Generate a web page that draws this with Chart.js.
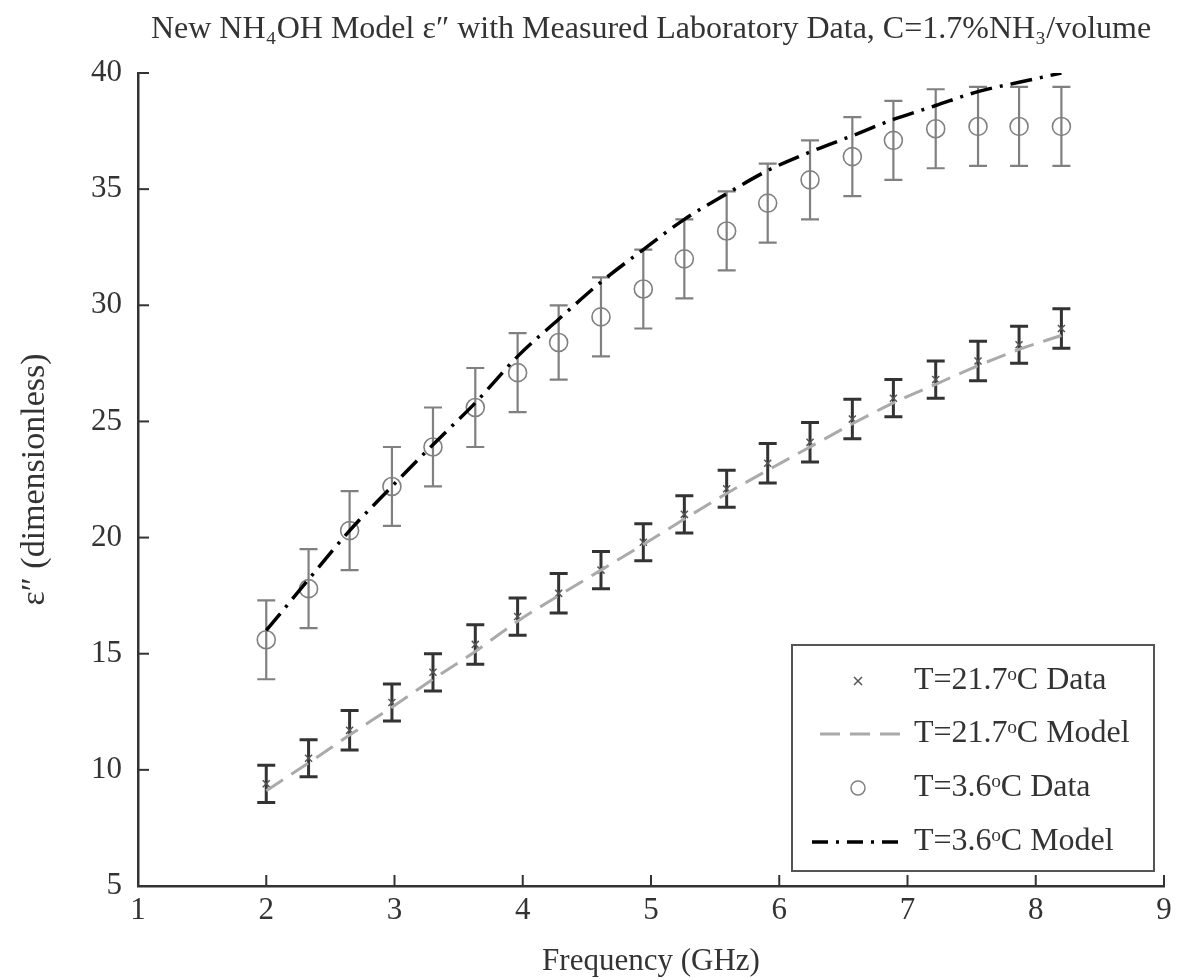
<!DOCTYPE html>
<html>
<head>
<meta charset="utf-8">
<script src="https://cdn.jsdelivr.net/npm/chart.js@4.4.0/dist/chart.umd.min.js"></script>
<style>
    html, body { margin: 0; padding: 0; background: #fff; }
</style>
</head>
<body>
<canvas id="myChart" width="1182" height="980"></canvas>
<script>
// frequencies (GHz) of the measured points
let freq = [2.00, 2.33, 2.65, 2.98, 3.30, 3.63, 3.96, 4.28, 4.61, 4.94,
            5.26, 5.59, 5.91, 6.24, 6.57, 6.89, 7.22, 7.55, 7.87, 8.20];

// T = 21.7 C
let warmData  = [9.4, 10.5, 11.7, 12.9, 14.2, 15.4, 16.6, 17.6, 18.6, 19.8,
                 21.0, 22.1, 23.2, 24.1, 25.1, 26.0, 26.8, 27.6, 28.3, 29.0];
let warmErr   = [0.8, 0.8, 0.85, 0.8, 0.8, 0.85, 0.8, 0.85, 0.8, 0.8,
                 0.8, 0.8, 0.85, 0.85, 0.85, 0.8, 0.8, 0.85, 0.8, 0.85];
let warmModel = [9.1, 10.3, 11.5, 12.7, 13.9, 15.1, 16.4, 17.5, 18.6, 19.7,
                 20.8, 21.9, 22.9, 23.9, 24.9, 25.8, 26.6, 27.4, 28.1, 28.7];

// T = 3.6 C
let coldData  = [15.6, 17.8, 20.3, 22.2, 23.9, 25.6, 27.1, 28.4, 29.5, 30.7,
                 32.0, 33.2, 34.4, 35.4, 36.4, 37.1, 37.6, 37.7, 37.7, 37.7];
let coldErr   = [1.7, 1.7, 1.7, 1.7, 1.7, 1.7, 1.7, 1.6, 1.7, 1.7,
                 1.7, 1.7, 1.7, 1.7, 1.7, 1.7, 1.7, 1.7, 1.7, 1.7];
let coldModel = [16.0, 18.2, 20.3, 22.2, 24.0, 25.8, 27.8, 29.4, 31.0, 32.4,
                 33.7, 34.8, 35.8, 36.6, 37.3, 38.0, 38.6, 39.2, 39.6, 40.0];

let seriesNames = ["T=21.7ᵒC Data", "T=21.7ᵒC Model", "T=3.6ᵒC Data", "T=3.6ᵒC Model"];
let titleText = "New NH₄OH Model ε″ with Measured Laboratory Data, C=1.7%NH₃/volume";

const serif = "'Liberation Serif', 'DejaVu Serif', serif";
const pts = arr => arr.map((v, i) => ({x: freq[i], y: v}));

const titleDraw = {
    id: 'titleDraw',
    afterDraw(chart) {
        const {ctx, chartArea: ca} = chart;
        ctx.save();
        ctx.fillStyle = '#333';
        ctx.font = "32px " + serif;
        ctx.textAlign = 'center';
        ctx.textBaseline = 'middle';
        ctx.fillText(titleText, (ca.left + ca.right) / 2, 30);
        ctx.restore();
    }
};

const errorBars = {
    id: 'errorBars',
    beforeDatasetsDraw(chart) {
        const {ctx, scales: {x, y}} = chart;
        const drawSet = (vals, errs, color, lw) => {
            ctx.save();
            ctx.strokeStyle = color;
            ctx.lineWidth = lw;
            vals.forEach((v, i) => {
                const px = x.getPixelForValue(freq[i]);
                const top = y.getPixelForValue(v + errs[i]);
                const bot = y.getPixelForValue(v - errs[i]);
                ctx.beginPath();
                ctx.moveTo(px, top); ctx.lineTo(px, bot);
                ctx.moveTo(px - 9, top); ctx.lineTo(px + 9, top);
                ctx.moveTo(px - 9, bot); ctx.lineTo(px + 9, bot);
                ctx.stroke();
            });
            ctx.restore();
        };
        drawSet(coldData, coldErr, '#808080', 2.2);
        drawSet(warmData, warmErr, '#333', 3);
    }
};

const innerTicks = {
    id: 'innerTicks',
    afterDraw(chart) {
        const {ctx, chartArea: ca, scales: {x, y}} = chart;
        ctx.save();
        ctx.strokeStyle = '#333';
        ctx.lineWidth = 2;
        x.ticks.forEach(t => {
            const px = x.getPixelForValue(t.value);
            ctx.beginPath();
            ctx.moveTo(px, ca.bottom);
            ctx.lineTo(px, ca.bottom - 11);
            ctx.stroke();
        });
        y.ticks.forEach(t => {
            const py = y.getPixelForValue(t.value);
            ctx.beginPath();
            ctx.moveTo(ca.left, py);
            ctx.lineTo(ca.left + 11, py);
            ctx.stroke();
        });
        ctx.restore();
    }
};

// legend box in the lower right corner of the plot
const boxLegend = {
    id: 'boxLegend',
    afterDraw(chart) {
        const {ctx, chartArea: ca} = chart;
        const x0 = ca.right - 372, y0 = ca.bottom - 241, w = 362, h = 226;
        ctx.save();
        ctx.fillStyle = '#fff';
        ctx.fillRect(x0, y0, w, h);
        ctx.strokeStyle = '#555';
        ctx.lineWidth = 2;
        ctx.strokeRect(x0, y0, w, h);

        const rows = [y0 + 36, y0 + 89, y0 + 143, y0 + 197];
        const mx = x0 + 66, tx = x0 + 122;

        // cross
        ctx.strokeStyle = '#555';
        ctx.lineWidth = 1.5;
        ctx.beginPath();
        ctx.moveTo(mx - 4, rows[0] - 4); ctx.lineTo(mx + 4, rows[0] + 4);
        ctx.moveTo(mx + 4, rows[0] - 4); ctx.lineTo(mx - 4, rows[0] + 4);
        ctx.stroke();

        // dashed line
        ctx.strokeStyle = '#aaa';
        ctx.lineWidth = 3;
        ctx.setLineDash([20, 10]);
        ctx.beginPath();
        ctx.moveTo(x0 + 28, rows[1]); ctx.lineTo(x0 + 113, rows[1]);
        ctx.stroke();

        // circle
        ctx.setLineDash([]);
        ctx.strokeStyle = '#808080';
        ctx.lineWidth = 1.5;
        ctx.beginPath();
        ctx.arc(mx, rows[2], 7, 0, Math.PI * 2);
        ctx.stroke();

        // dash dot line
        ctx.strokeStyle = '#000';
        ctx.lineWidth = 3.5;
        ctx.setLineDash([16, 8, 3, 8]);
        ctx.beginPath();
        ctx.moveTo(x0 + 20, rows[3]); ctx.lineTo(x0 + 113, rows[3]);
        ctx.stroke();
        ctx.setLineDash([]);

        ctx.fillStyle = '#333';
        ctx.font = "32px " + serif;
        ctx.textAlign = 'left';
        ctx.textBaseline = 'middle';
        seriesNames.forEach((s, i) => ctx.fillText(s, tx, rows[i]));
        ctx.restore();
    }
};

new Chart("myChart", {
    type: "scatter",
    data: {
        datasets: [
            {
                label: seriesNames[0],
                data: pts(warmData),
                showLine: false,
                pointStyle: 'crossRot',
                pointRadius: 5,
                borderColor: '#555',
                borderWidth: 1.5,
                order: 2
            },
            {
                label: seriesNames[1],
                data: pts(warmModel),
                showLine: true,
                pointRadius: 0,
                borderColor: '#aaa',
                borderWidth: 3,
                borderDash: [20, 10],
                cubicInterpolationMode: 'monotone',
                order: 1
            },
            {
                label: seriesNames[2],
                data: pts(coldData),
                showLine: false,
                pointStyle: 'circle',
                pointRadius: 9,
                borderColor: '#808080',
                backgroundColor: 'rgba(0,0,0,0)',
                borderWidth: 1.6,
                order: 4
            },
            {
                label: seriesNames[3],
                data: pts(coldModel),
                showLine: true,
                pointRadius: 0,
                borderColor: '#000',
                borderWidth: 3.5,
                borderDash: [22, 8, 3, 8],
                cubicInterpolationMode: 'monotone',
                order: 3
            }
        ]
    },
    options: {
        responsive: false,
        animation: false,
        devicePixelRatio: 1,
        layout: { padding: { top: 73, right: 18, left: 0, bottom: 0 } },
        plugins: {
            legend: { display: false },
            title: { display: false },
            tooltip: { enabled: false }
        },
        scales: {
            x: {
                type: 'linear',
                min: 1, max: 9,
                ticks: { stepSize: 1, color: '#333', padding: 6, font: { family: serif, size: 31 } },
                grid: { display: false, drawTicks: false },
                border: { display: true, color: '#333', width: 2.5 },
                title: { display: true, text: 'Frequency (GHz)', color: '#333', font: { family: serif, size: 31 }, padding: { top: 10, bottom: 0 } },
                afterFit(scale) { scale.height = 94; }
            },
            y: {
                type: 'linear',
                min: 5, max: 40,
                ticks: { stepSize: 5, color: '#333', padding: 16, font: { family: serif, size: 31 } },
                grid: { display: false, drawTicks: false },
                border: { display: true, color: '#333', width: 2.5 },
                title: { display: true, text: 'ε″ (dimensionless)', color: '#333', font: { family: serif, size: 34 }, padding: { top: 15, bottom: 0 } },
                afterFit(scale) { scale.width = 138; }
            }
        }
    },
    plugins: [titleDraw, errorBars, innerTicks, boxLegend]
});
</script>
</body>
</html>
